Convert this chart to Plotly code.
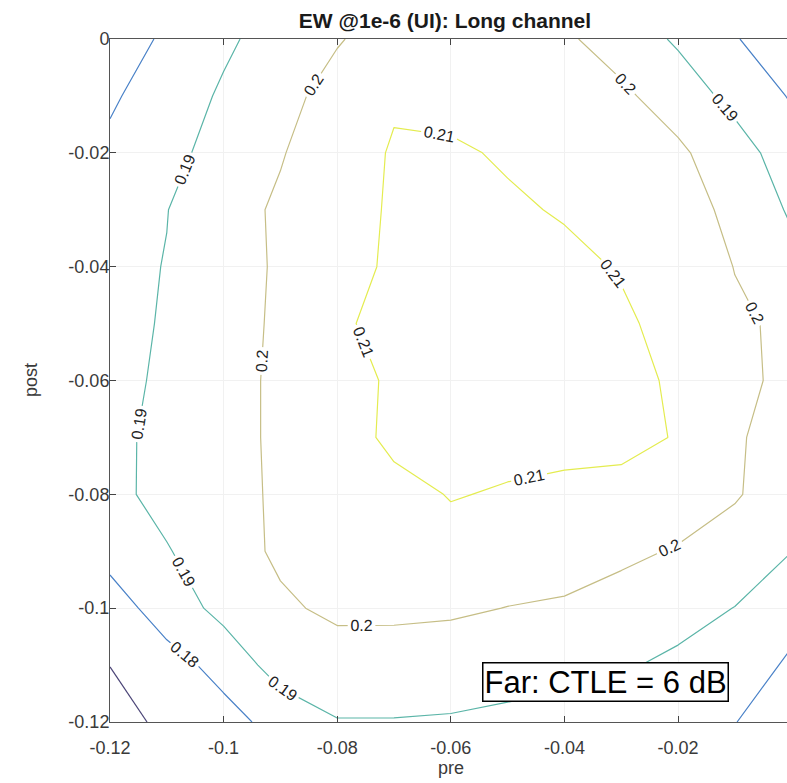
import plotly.graph_objects as go

# ---- data ----
pre = [-0.12, -0.11, -0.10, -0.09, -0.08, -0.07, -0.06, -0.05, -0.04, -0.03, -0.02, -0.01, 0.0]
post = [-0.12, -0.11, -0.10, -0.09, -0.08, -0.07, -0.06, -0.05, -0.04, -0.03, -0.02, -0.01, 0.0]

# eye width (UI); one row per post value (bottom to top), one column per pre value
ew = [
    [0.1640, 0.1732, 0.1775, 0.1825, 0.1895, 0.1895, 0.1893, 0.1885, 0.1865, 0.1840, 0.1820, 0.1802, 0.1752],
    [0.1702, 0.1772, 0.1824, 0.1950, 0.1966, 0.1965, 0.1940, 0.1928, 0.1929, 0.1911, 0.1880, 0.1855, 0.1784],
    [0.1765, 0.1835, 0.1935, 0.1988, 0.2015, 0.2015, 0.2016, 0.1998, 0.1985, 0.1965, 0.1937, 0.1898, 0.1837],
    [0.1825, 0.1893, 0.1965, 0.2013, 0.2045, 0.2055, 0.2080, 0.2060, 0.2056, 0.2018, 0.1993, 0.1965, 0.1901],
    [0.1870, 0.1935, 0.1980, 0.2009, 0.2060, 0.2080, 0.2103, 0.2095, 0.2080, 0.2075, 0.2050, 0.2007, 0.1957],
    [0.1875, 0.1928, 0.1985, 0.2008, 0.2068, 0.2115, 0.2125, 0.2118, 0.2127, 0.2123, 0.2095, 0.2010, 0.1962],
    [0.1882, 0.1910, 0.1985, 0.2008, 0.2070, 0.2111, 0.2135, 0.2130, 0.2135, 0.2130, 0.2085, 0.2015, 0.1985],
    [0.1882, 0.1905, 0.1985, 0.2006, 0.2085, 0.2130, 0.2140, 0.2135, 0.2135, 0.2115, 0.2068, 0.2012, 0.1985],
    [0.1875, 0.1903, 0.1980, 0.2006, 0.2070, 0.2113, 0.2138, 0.2130, 0.2125, 0.2093, 0.2055, 0.1998, 0.1930],
    [0.1860, 0.1898, 0.1965, 0.2013, 0.2065, 0.2110, 0.2130, 0.2115, 0.2091, 0.2075, 0.2035, 0.1980, 0.1887],
    [0.1815, 0.1865, 0.1945, 0.1994, 0.2055, 0.2108, 0.2115, 0.2088, 0.2070, 0.2045, 0.2015, 0.1947, 0.1843],
    [0.1790, 0.1838, 0.1915, 0.1970, 0.2035, 0.2090, 0.2065, 0.2065, 0.2040, 0.2015, 0.1960, 0.1868, 0.1792],
    [0.1725, 0.1822, 0.1880, 0.1949, 0.1993, 0.2043, 0.2045, 0.2045, 0.2012, 0.1964, 0.1885, 0.1808, 0.1720],
]

levels = [0.17, 0.18, 0.19, 0.20, 0.21]
level_colors = ["#4b4577", "#4a82c8", "#5bb5a8", "#c6be86", "#e4ec50"]

x_tick_vals = [-0.12, -0.10, -0.08, -0.06, -0.04, -0.02]
x_tick_text = ["-0.12", "-0.1", "-0.08", "-0.06", "-0.04", "-0.02"]
y_tick_vals = [-0.12, -0.10, -0.08, -0.06, -0.04, -0.02, 0.0]
y_tick_text = ["-0.12", "-0.1", "-0.08", "-0.06", "-0.04", "-0.02", "0"]

title_text = "EW @1e-6 (UI): Long channel"
x_label = "pre"
y_label = "post"
box_text = "Far: CTLE = 6 dB"

# ---- figure ----
FONT = "Liberation Sans, Arial, Helvetica, sans-serif"

step = round(levels[1] - levels[0], 4)
# Plotly spaces contour labels by the number of level slots in the trace; padding the
# level range with empty slots (no data there) lets it place several labels per line,
# as MATLAB's clabel does. The drawn lines are still only the five levels above.
pad_below, pad_above = 30, 35
c_start = levels[0] - pad_below * step
c_end = levels[-1] + pad_above * step
span = c_end - c_start
half = 0.5 * step / span
colorscale = [[0.0, level_colors[0]]]
for k, lev in enumerate(levels):
    f = (lev - c_start) / span
    if k > 0:
        colorscale.append([f - half, level_colors[k]])
    colorscale.append([f + half, level_colors[k]])
colorscale.append([1.0, level_colors[-1]])

fig = go.Figure()
fig.add_trace(go.Contour(
    x=pre, y=post, z=ew,
    autocontour=False,
    contours=dict(start=c_start, end=c_end, size=step,
                  coloring="lines", showlabels=True,
                  labelformat=".2~f",
                  labelfont=dict(family=FONT, size=16, color="#222222")),
    colorscale=colorscale,
    showscale=False,
    line=dict(width=1.2, smoothing=0),
    hoverinfo="skip",
))

x_right = -0.12 + 677 / 5680.0

fig.update_layout(
    width=787, height=783,
    margin=dict(l=110, r=0, t=39, b=61, autoexpand=False),
    paper_bgcolor="white", plot_bgcolor="white",
    showlegend=False,
    title=dict(text=title_text, x=0.4948, xref="paper", xanchor="center",
               y=1 - 21 / 783, yref="container", yanchor="middle",
               font=dict(family=FONT, size=21, color="#1a1a1a", weight="bold")),
    font=dict(family=FONT),
)

fig.update_xaxes(
    range=[-0.12, x_right], tickvals=x_tick_vals, ticktext=x_tick_text,
    ticks="inside", ticklen=6, tickcolor="#444444",
    showline=True, linecolor="#555555", linewidth=1, mirror="ticks",
    showgrid=True, gridcolor="#f1f1f1", zeroline=False,
    tickfont=dict(family=FONT, size=18, color="#3a3a3a"),
    ticklabelstandoff=9, automargin=False,
)
fig.update_yaxes(
    range=[-0.12, 0.0], tickvals=y_tick_vals, ticktext=y_tick_text,
    ticks="inside", ticklen=6, tickcolor="#444444",
    showline=True, linecolor="#555555", linewidth=1, mirror=False,
    showgrid=True, gridcolor="#f1f1f1", zeroline=False,
    tickfont=dict(family=FONT, size=18, color="#3a3a3a"),
    ticklabelstandoff=-4, automargin=False,
)

fig.add_annotation(text=x_label, xref="paper", yref="paper", x=0.5037, y=-0.068,
                   xanchor="center", yanchor="middle", showarrow=False,
                   font=dict(family=FONT, size=18, color="#3a3a3a"))
fig.add_annotation(text=y_label, xref="paper", yref="paper", x=-0.1167, y=0.5007,
                   xanchor="center", yanchor="middle", showarrow=False, textangle=-90,
                   font=dict(family=FONT, size=18, color="#3a3a3a"))
fig.add_annotation(text=box_text, xref="x", yref="y", x=-0.03268, y=-0.11297,
                   xanchor="center", yanchor="middle", showarrow=False,
                   font=dict(family=FONT, size=31, color="black"),
                   bgcolor="white", bordercolor="black", borderwidth=1.5, borderpad=1)

fig.write_html("out.html",
               config={"displayModeBar": False},
               post_script="document.body.style.margin='0px';"
                           "document.body.style.overflow='hidden';")
